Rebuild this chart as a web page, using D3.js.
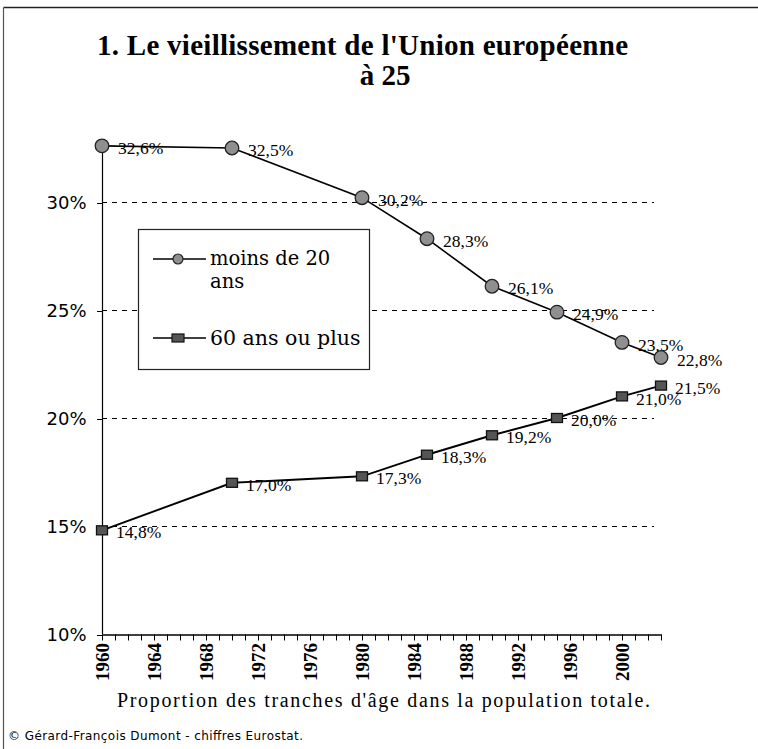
<!DOCTYPE html>
<html><head><meta charset="utf-8">
<script src="https://cdnjs.cloudflare.com/ajax/libs/d3/7.8.5/d3.min.js"></script>
<style>html,body{margin:0;padding:0;background:#fff}svg{display:block}</style>
</head><body>
<script>
const years = [1960, 1970, 1980, 1985, 1990, 1995, 2000, 2003];
const moins20 = [32.6, 32.5, 30.2, 28.3, 26.1, 24.9, 23.5, 22.8];
const plus60 = [14.8, 17.0, 17.3, 18.3, 19.2, 20.0, 21.0, 21.5];
const seriesNames = ["moins de 20 ans", "60 ans ou plus"];
const yTicks = [10, 15, 20, 25, 30];
const gridTicks = [15, 20, 25, 30];
const xTickLabels = [1960, 1964, 1968, 1972, 1976, 1980, 1984, 1988, 1992, 1996, 2000];
const titleLines = ["1. Le vieillissement de l'Union européenne", "à 25"];
const subtitle = "Proportion des tranches d'âge dans la population totale.";
const footer = "© Gérard-François Dumont - chiffres Eurostat.";

const W = 758, H = 749;
const svg = d3.select("body").append("svg").attr("width", W).attr("height", H);

// frame
svg.append("line").attr("x1", 3.5).attr("x2", W).attr("y1", 7.5).attr("y2", 7.5).attr("stroke", "#222").attr("stroke-width", 1.3);
svg.append("line").attr("x1", 3.5).attr("x2", 3.5).attr("y1", 7.5).attr("y2", H).attr("stroke", "#555").attr("stroke-width", 1.2);

const x = d3.scaleLinear().domain([1960, 2003]).range([102, 661]);
const y = d3.scaleLinear().domain([10, 35]).range([634, 94]);

// title
svg.append("text").attr("x", 97).attr("y", 55).attr("textLength", 531).attr("lengthAdjust", "spacing")
  .attr("font-family", "'Liberation Serif', serif").attr("font-weight", "bold").attr("font-size", 29)
  .text(titleLines[0]);
svg.append("text").attr("x", 385).attr("y", 85).attr("text-anchor", "middle")
  .attr("font-family", "'Liberation Serif', serif").attr("font-weight", "bold").attr("font-size", 29)
  .text(titleLines[1]);

// gridlines
svg.append("g").selectAll("line").data(gridTicks).join("line")
  .attr("x1", x(1960)).attr("x2", 654).attr("y1", d => y(d) + 0.5).attr("y2", d => y(d) + 0.5)
  .attr("stroke", "#000").attr("stroke-width", 1).attr("stroke-dasharray", "5,5")
  .attr("shape-rendering", "crispEdges");

// y axis
const yAxis = d3.axisLeft(y).tickValues(yTicks).tickSize(6).tickPadding(10).tickFormat(d => d + "%");
const gy = svg.append("g").attr("transform", `translate(${x(1960) + 0.5},0.5)`).call(yAxis);
gy.select(".domain").remove();
gy.selectAll(".tick line").attr("shape-rendering", "crispEdges");
gy.append("line").attr("x1", 0).attr("x2", 0).attr("y1", y(10)).attr("y2", y(moins20[0])).attr("stroke", "#000").attr("stroke-width", 1.2);
gy.selectAll(".tick text").attr("font-family", "'DejaVu Sans', sans-serif").attr("font-size", 18).attr("fill", "#000");

// x axis
const xAxis = d3.axisBottom(x).tickValues(d3.range(1960, 2004)).tickSize(6).tickSizeOuter(0).tickFormat("");
const gx = svg.append("g").attr("transform", `translate(0,${y(10) + 0.5})`).call(xAxis);
gx.select(".domain").attr("stroke-width", 1.3);
gx.selectAll(".tick line").attr("stroke-width", 1);
svg.append("g").selectAll("text").data(xTickLabels).join("text")
  .attr("transform", d => `translate(${x(d)},${y(10) + 9}) rotate(-90)`)
  .attr("text-anchor", "end").attr("dy", "0.35em")
  .attr("font-family", "'Liberation Serif', serif").attr("font-weight", "bold").attr("font-size", 19)
  .text(d => d);

// lines
const line = d3.line().x(d => x(d[0])).y(d => y(d[1]));
const d1 = years.map((yr, i) => [yr, moins20[i]]);
const d2 = years.map((yr, i) => [yr, plus60[i]]);
svg.append("path").datum(d1).attr("d", line).attr("fill", "none").attr("stroke", "#000").attr("stroke-width", 1.6);
svg.append("path").datum(d2).attr("d", line).attr("fill", "none").attr("stroke", "#000").attr("stroke-width", 1.9);

const fmt = v => v.toFixed(1).replace(".", ",") + "%";
// data labels
svg.append("g").selectAll("text").data(d1).join("text")
  .attr("x", d => x(d[0]) + 16).attr("y", d => y(d[1]) + 2).attr("dy", "0.35em")
  .attr("font-family", "'Liberation Serif', serif").attr("font-size", 17.5).text(d => fmt(d[1]));
svg.append("g").selectAll("text").data(d2).join("text")
  .attr("x", d => x(d[0]) + 14).attr("y", d => y(d[1]) + 2).attr("dy", "0.35em")
  .attr("font-family", "'Liberation Serif', serif").attr("font-size", 17.5).text(d => fmt(d[1]));

// markers
svg.append("g").selectAll("circle").data(d1).join("circle")
  .attr("cx", d => x(d[0])).attr("cy", d => y(d[1])).attr("r", 6.8)
  .attr("fill", "#8f8f8f").attr("stroke", "#222").attr("stroke-width", 1.3);
svg.append("g").selectAll("rect").data(d2).join("rect")
  .attr("x", d => x(d[0]) - 5.5).attr("y", d => y(d[1]) - 4.5).attr("width", 11).attr("height", 9)
  .attr("fill", "#555").attr("stroke", "#111").attr("stroke-width", 1.3);

// legend
const lg = svg.append("g");
lg.append("rect").attr("x", 138.5).attr("y", 229.5).attr("width", 231).attr("height", 140)
  .attr("fill", "#fff").attr("stroke", "#222").attr("stroke-width", 1.2);
const ly = [259, 338];
lg.selectAll("line.l").data(ly).join("line").attr("x1", 153).attr("x2", 206).attr("y1", d => d).attr("y2", d => d)
  .attr("stroke", "#000").attr("stroke-width", 1.3);
lg.append("circle").attr("cx", 178).attr("cy", ly[0]).attr("r", 5).attr("fill", "#8f8f8f").attr("stroke", "#222").attr("stroke-width", 1.2);
lg.append("rect").attr("x", 172).attr("y", ly[1] - 4).attr("width", 12).attr("height", 8).attr("fill", "#555").attr("stroke", "#111").attr("stroke-width", 1.2);
lg.append("text").attr("x", 210).attr("y", 265).attr("font-family", "'DejaVu Serif', serif").attr("font-size", 19.5).text("moins de 20");
lg.append("text").attr("x", 210).attr("y", 288).attr("font-family", "'DejaVu Serif', serif").attr("font-size", 19.5).text("ans");
lg.append("text").attr("x", 210).attr("y", 345).attr("font-family", "'DejaVu Serif', serif").attr("font-size", 20.5).text(seriesNames[1]);

// subtitle & footer
svg.append("text").attr("x", 117).attr("y", 707).attr("textLength", 533).attr("lengthAdjust", "spacing")
  .attr("font-family", "'Liberation Serif', serif").attr("font-size", 20).text(subtitle);
svg.append("text").attr("x", 8).attr("y", 740).attr("textLength", 295).attr("lengthAdjust", "spacing")
  .attr("font-family", "'DejaVu Sans', sans-serif").attr("font-size", 12).text(footer);
</script>
</body></html>
